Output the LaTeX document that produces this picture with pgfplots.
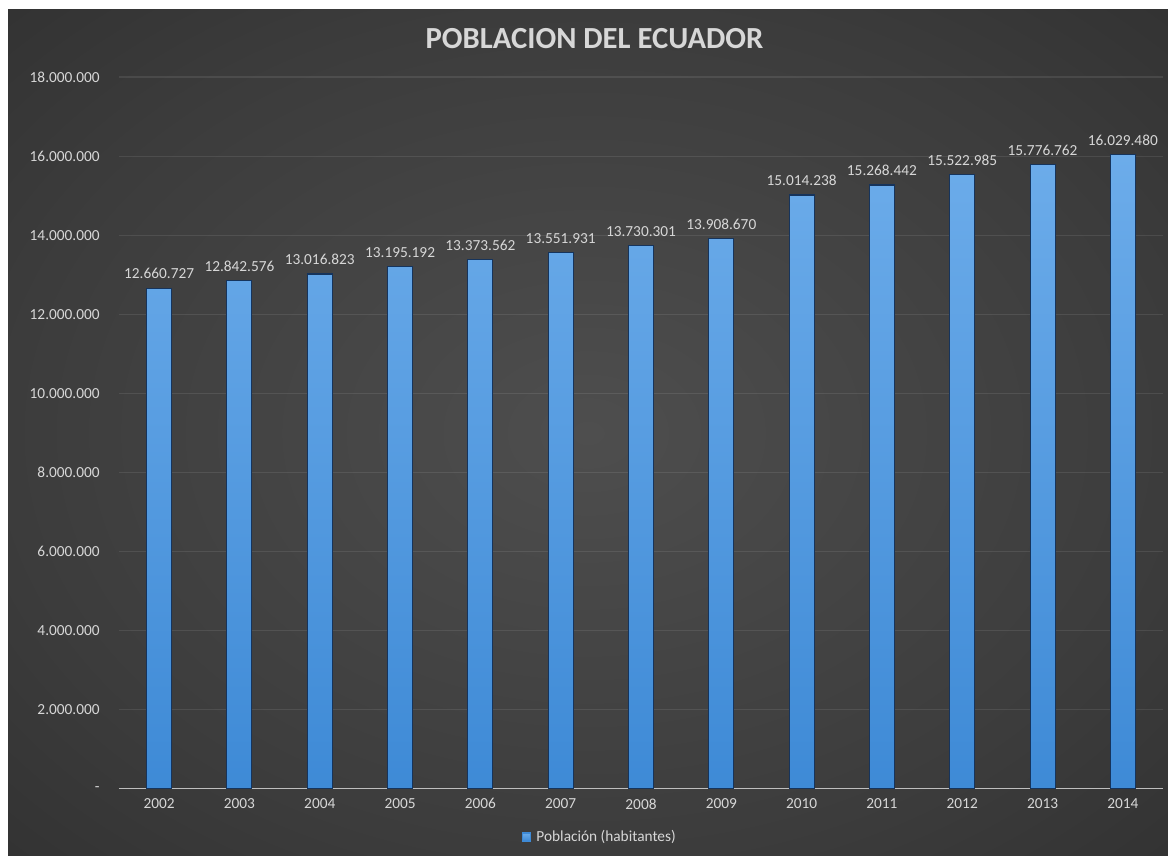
\documentclass[border=0pt]{standalone}
\usepackage{pgfplots}
\pgfplotsset{compat=1.18}
\usepackage{fontspec}
\setmainfont{Carlito}
\definecolor{bgA}{RGB}{78,78,78}
\definecolor{bgM}{RGB}{60,60,60}
\definecolor{bgB}{RGB}{38,38,38}
\definecolor{txt}{RGB}{215,215,215}
\definecolor{bartop}{RGB}{108,172,234}
\definecolor{barbot}{RGB}{62,138,214}
\definecolor{baredge}{RGB}{22,52,92}
\definecolor{axcol}{RGB}{190,190,190}
\pgfdeclareradialshading{bgshade}{\pgfpoint{0bp}{0bp}}{color(0bp)=(bgA); color(25bp)=(bgM); color(50bp)=(bgB); color(80bp)=(bgB)}
\begin{document}
\begin{tikzpicture}
\fill[white] (0pt,0pt) rectangle (876pt,642pt);
\shade[shading=bgshade] (6pt,0pt) rectangle (876pt,634.5pt);
\begin{axis}[
  at={(89.25pt,50.55pt)}, anchor=south west,
  scale only axis, width=783pt, height=533.7pt,
  xmin=-0.5, xmax=12.5, ymin=0, ymax=18000000,
  scaled y ticks=false,
  axis x line=bottom, axis y line=left,
  x axis line style={color=axcol, line width=1.1pt, -},
  y axis line style={draw=none},
  major tick length=0pt,
  xtick=data,
  xticklabels={2002,2003,2004,2005,2006,2007,2008,2009,2010,2011,2012,2013,2014},
  ytick={0,2000000,4000000,6000000,8000000,10000000,12000000,14000000,16000000,18000000},
  yticklabels={{-},{2.000.000},{4.000.000},{6.000.000},{8.000.000},{10.000.000},{12.000.000},{14.000.000},{16.000.000},{18.000.000}},
  ticklabel style={font=\fontsize{11.5}{13}\selectfont, text=txt},
  yticklabel style={xshift=-11pt},
  xticklabel style={yshift=-4pt},
  ymajorgrids, grid style={white, opacity=0.09, line width=0.8pt},
  title={POBLACION DEL ECUADOR},
  title style={at={(0.4555,1.043)}, anchor=center, font=\fontsize{23}{27}\selectfont\bfseries, text=txt},
  legend style={at={(0.461,-0.068)}, anchor=center, draw=none, fill=none, text=txt, font=\fontsize{11.5}{13}\selectfont},
  legend image code/.code={\fill[barbot] (0pt,-3pt) rectangle (6pt,3pt); \path (8pt,0pt);},
  clip=false,
]
\addplot[ybar, bar width=18.75pt, draw=baredge, line width=0.8pt, top color=bartop, bottom color=barbot,
  point meta=explicit symbolic,
  nodes near coords, nodes near coords style={font=\fontsize{11.5}{13}\selectfont, text=txt, anchor=south, yshift=3pt}]
coordinates {
(0,12660727) [12.660.727]
(1,12842576) [12.842.576]
(2,13016823) [13.016.823]
(3,13195192) [13.195.192]
(4,13373562) [13.373.562]
(5,13551931) [13.551.931]
(6,13730301) [13.730.301]
(7,13908670) [13.908.670]
(8,15014238) [15.014.238]
(9,15268442) [15.268.442]
(10,15522985) [15.522.985]
(11,15776762) [15.776.762]
(12,16029480) [16.029.480]
};
\addlegendentry{Población (habitantes)}
\end{axis}
\end{tikzpicture}
\end{document}
